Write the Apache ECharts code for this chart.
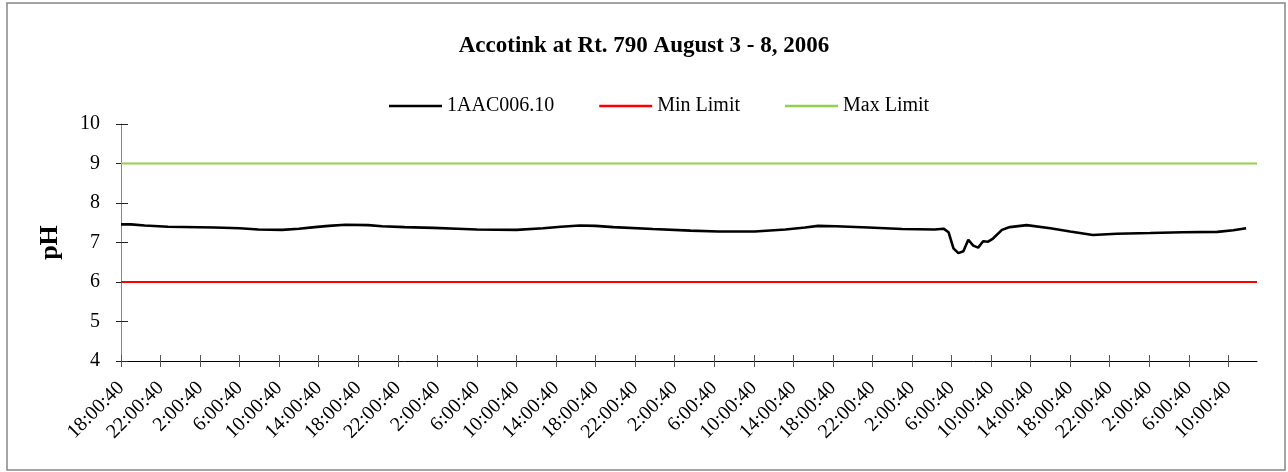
<!DOCTYPE html>
<html>
<head>
<meta charset="utf-8">
<script src="https://cdn.jsdelivr.net/npm/echarts@6/dist/echarts.min.js"></script>
<style>
  html, body { margin: 0; padding: 0; background: #fff; }
  #chart { width: 1288px; height: 472px; }
</style>
</head>
<body>
<div id="chart"></div>
<script>
// hours since Aug 3 18:00:40, ticks every 4 hours
const tickLabels = [
  '18:00:40', '22:00:40', '2:00:40', '6:00:40', '10:00:40', '14:00:40',
  '18:00:40', '22:00:40', '2:00:40', '6:00:40', '10:00:40', '14:00:40',
  '18:00:40', '22:00:40', '2:00:40', '6:00:40', '10:00:40', '14:00:40',
  '18:00:40', '22:00:40', '2:00:40', '6:00:40', '10:00:40', '14:00:40',
  '18:00:40', '22:00:40', '2:00:40', '6:00:40', '10:00:40'
];
const tickHours = tickLabels.map((_, i) => i * 4);
const axisEndHour = 114.9;

const phHours = [
  0, 1, 2.4, 4.75, 9.5, 12, 13.9, 16.3, 18, 19.6, 21, 22.7, 25, 26.4, 28.7,
  31.6, 34, 36, 40, 42.7, 44.5, 46.4, 48, 49.8, 53.8, 57.6, 60.4, 64.1,
  67.2, 69.2, 70.5, 72.3, 75.6, 79, 82.3, 83.2, 83.7, 84.2, 84.7, 85.2,
  85.7, 86.2, 86.7, 87.2, 87.7, 88.2, 89.1, 89.9, 91.6, 94, 96, 98.3,
  100.7, 104.1, 107.4, 110.9, 112.5, 113.8
];
const phValues = [
  7.46, 7.46, 7.43, 7.40, 7.38, 7.36, 7.33, 7.32, 7.35, 7.39, 7.42, 7.45, 7.44, 7.41, 7.39,
  7.37, 7.35, 7.33, 7.32, 7.36, 7.40, 7.43, 7.42, 7.39, 7.34, 7.30, 7.28, 7.28,
  7.33, 7.38, 7.42, 7.41, 7.38, 7.34, 7.33, 7.35, 7.26, 6.85, 6.73, 6.78,
  7.07, 6.92, 6.87, 7.03, 7.02, 7.10, 7.32, 7.39, 7.44, 7.36, 7.28, 7.19,
  7.22, 7.24, 7.26, 7.27, 7.31, 7.36
];
const minLimit = 6;
const maxLimit = 9;

const font = 'Liberation Serif';
const chart = echarts.init(document.getElementById('chart'));

const xBase = {
  type: 'value',
  min: 0,
  max: axisEndHour,
  position: 'bottom',
  splitLine: { show: false }
};
const yBase = {
  type: 'value',
  min: 4,
  max: 10,
  interval: 1,
  position: 'left',
  splitLine: { show: false }
};

chart.setOption({
  backgroundColor: '#fff',
  animation: false,
  graphic: [{
    type: 'rect',
    shape: { x: 7, y: 3, width: 1278, height: 467 },
    style: { fill: 'none', stroke: '#868686', lineWidth: 1.5 },
    silent: true
  }],
  title: {
    text: 'Accotink at Rt. 790 August 3 - 8, 2006',
    left: 'center',
    top: 30,
    textStyle: { fontFamily: font, fontSize: 23, fontWeight: 'bold', color: '#000' }
  },
  legend: {
    left: 389,
    top: 96,
    padding: 0,
    icon: 'rect',
    itemWidth: 53,
    itemHeight: 2.5,
    itemGap: 45,
    textStyle: { fontFamily: font, fontSize: 20, color: '#000' },
    data: ['1AAC006.10', 'Min Limit', 'Max Limit']
  },
  grid: { left: 121, right: 31, top: 124, bottom: 111 },
  xAxis: [
    Object.assign({}, xBase, {
      axisLine: { lineStyle: { color: '#000', width: 1 } },
      axisTick: { customValues: tickHours, length: 6, lineStyle: { color: '#555' } },
      axisLabel: {
        customValues: tickHours,
        rotate: 45,
        margin: 24,
        fontFamily: font,
        fontSize: 20,
        color: '#000',
        formatter: v => tickLabels[Math.round(v / 4)]
      }
    }),
    Object.assign({}, xBase, {
      axisLine: { show: false },
      axisTick: { customValues: tickHours, inside: true, length: 6, lineStyle: { color: '#555' } },
      axisLabel: { show: false }
    })
  ],
  yAxis: [
    Object.assign({}, yBase, {
      name: 'pH',
      nameLocation: 'middle',
      nameGap: 58,
      nameTextStyle: { fontFamily: font, fontSize: 26, fontWeight: 'bold', color: '#000' },
      axisLine: { show: true, lineStyle: { color: '#868686', width: 1 } },
      axisTick: { show: true, length: 5, lineStyle: { color: '#222' } },
      axisLabel: { margin: 21, fontFamily: font, fontSize: 20, color: '#000' }
    }),
    Object.assign({}, yBase, {
      axisLine: { show: false },
      axisTick: { show: true, inside: true, length: 7, lineStyle: { color: '#222' } },
      axisLabel: { show: false }
    })
  ],
  series: [
    {
      name: '1AAC006.10',
      type: 'line',
      symbol: 'none',
      color: '#000',
      lineStyle: { color: '#000', width: 2.6 },
      data: phHours.map((h, i) => [h, phValues[i]]),
      z: 3
    },
    {
      name: 'Min Limit',
      type: 'line',
      symbol: 'none',
      color: '#ff0000',
      lineStyle: { color: '#ff0000', width: 2 },
      data: [[0, minLimit], [axisEndHour, minLimit]]
    },
    {
      name: 'Max Limit',
      type: 'line',
      symbol: 'none',
      color: '#92d050',
      lineStyle: { color: '#92d050', width: 2 },
      data: [[0, maxLimit], [axisEndHour, maxLimit]]
    }
  ]
});

window.addEventListener('resize', () => chart.resize());
</script>
</body>
</html>
